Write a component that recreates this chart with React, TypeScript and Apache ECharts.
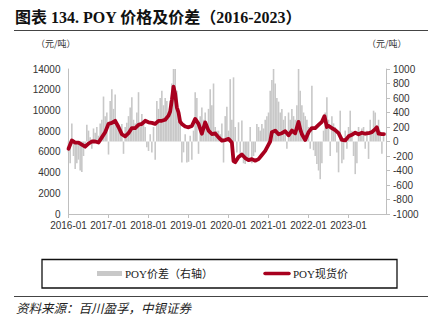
import React, { useEffect, useRef } from "react";
import * as echarts from "echarts";

// POY spot price (元/吨), left axis
const priceDates = [
  "2016-01-01","2016-02-01","2016-03-01","2016-04-01","2016-05-01","2016-06-01","2016-07-01","2016-08-01","2016-09-01","2016-10-01","2016-11-01","2016-12-01",
  "2017-01-01","2017-02-01","2017-03-01","2017-04-01","2017-05-01","2017-06-01","2017-07-01","2017-08-01","2017-09-01","2017-10-01","2017-11-01","2017-12-01",
  "2018-01-01","2018-02-01","2018-03-01","2018-04-01","2018-05-01","2018-06-01","2018-07-01","2018-07-16","2018-08-01","2018-08-16","2018-09-01","2018-09-16","2018-10-01","2018-10-16","2018-11-01","2018-12-01",
  "2019-01-01","2019-02-01","2019-03-01","2019-04-01","2019-05-01","2019-06-01","2019-07-01","2019-08-01","2019-09-01","2019-10-01","2019-11-01","2019-12-01",
  "2020-01-01","2020-02-01","2020-02-16","2020-03-01","2020-04-01","2020-05-01","2020-06-01","2020-07-01","2020-08-01","2020-09-01","2020-10-01","2020-11-01","2020-12-01",
  "2021-01-01","2021-01-16","2021-02-01","2021-03-01","2021-04-01","2021-05-01","2021-06-01","2021-07-01","2021-08-01","2021-09-01","2021-10-01","2021-10-16","2021-11-01","2021-12-01",
  "2022-01-01","2022-02-01","2022-03-01","2022-04-01","2022-05-01","2022-05-25","2022-06-16","2022-07-01","2022-08-01","2022-09-01","2022-10-01","2022-11-01","2022-12-01",
  "2023-01-01","2023-02-01","2023-03-01","2023-04-01","2023-05-01","2023-06-01","2023-07-01","2023-08-01","2023-09-01","2023-09-16","2023-10-01","2023-11-01","2023-11-20",
];
const priceValues = [
  6300,7100,6900,6900,6700,6500,6800,7000,7000,6900,7400,7900,
  8700,8800,9000,8400,7700,7500,7800,8300,8300,8600,8700,9000,
  8850,8800,8700,9000,9000,9100,9500,9900,11000,12300,11600,10300,9800,8900,8700,8450,
  8370,8500,9180,8700,7750,8850,8050,7720,7780,7400,7080,7140,
  7250,6900,5100,5000,5500,5750,5400,5200,5300,5150,5300,5700,6100,
  6700,7000,7900,8050,7700,7800,8000,7600,8050,7800,8900,8200,7700,7150,
  7900,8300,8300,8600,8900,9450,8400,8500,8300,8100,7800,7150,7100,
  7500,7650,7850,7700,7850,7750,7800,7900,8200,8370,7750,7720,7720,
];

// POY spread (元/吨), right axis: two readings per month, first from 2016-01
const spreadStart = "2016-01-01";
const spreadValues = [
  -150,-300, 250,-200, -380,-300, -250,-400, -420,-200, -80,230, 150,60, -100,180, 120,200, 80,250, 300,620, 350,400,
  -180,560, 720,450, 650,250, 200,120, 240,-170, 200,260, 350,470, 610,300, 250,400, 680,200, 380,250, 200,-80,
  -130,100, -150,200, -250,560, 450,600, 700,500, 600,560, 400,560, 800,1000, 1000,700, 425,300, -290,-150, 100,-290,
  -280,80, -250,150, 680,600, -170,350, 470,300, 400,250, 450,720, 500,800, 200,150, 150,100, 250,-290, 350,480,
  150,860, 300,885, 200,-150, 265,-200, 290,-300, -310,-250, -280,200, -300,-200, -150,240, 200,150, 240,180, 300,350,
  400,700, 850,1000, 800,600, 550,400, 450,300, 350,-100, 400,300, 450,350, 300,500, 1000,700, 500,400, 350,300,
  200,-100, 770,-120, -200,-310, -400,-520, -300,150, 400,610, 300,-200, 350,250, 200,-150, -425,425, -300,-250, 150,-100,
  200,425, 150,-200, -450,-300, 200,100, 180,200, -100,150, -240,300, 150,425, 400,200, 300,150, -170,100,
];

const yearLabels = ["2016-01","2017-01","2018-01","2019-01","2020-01","2021-01","2022-01","2023-01"];
const axisEnd = "2023-12-08";

const seriesNames = ["POY价差（右轴）", "POY现货价"];
const title = "图表 134. POY 价格及价差（2016-2023）";
const unitLabel = "（元/吨）";
const sourceText = "资料来源：百川盈孚，中银证券";

const RED = "#A8001E";
const GREY = "#C8C8C8";

// month index since 2016-01 (time scale)
function toMonth(d: string): number {
  const [y, m, day] = d.split("-").map(Number);
  return (y - 2016) * 12 + (m - 1) + ((day || 1) - 1) / 30.5;
}

export default function App() {
  const ref = useRef<HTMLDivElement>(null);
  useEffect(() => {
    if (!ref.current) return;
    const chart = echarts.init(ref.current, null, { renderer: "svg" });
    const start = toMonth(spreadStart);
    const barData = spreadValues.map((v, i) => [start + i * 0.5, v]);
    const lineData = priceDates.map((d, i) => [toMonth(d), priceValues[i]]);
    const axisFont = { fontFamily: "Liberation Sans, Arial, sans-serif", fontSize: 10, color: "#333" };
    const cjk = "Liberation Serif, Noto Sans CJK SC, serif";
    chart.setOption({
      animation: false,
      backgroundColor: "#fff",
      grid: { left: 68.5, right: 48, top: 69, bottom: 109 },
      xAxis: {
        type: "value",
        min: 0,
        max: toMonth(axisEnd),
        interval: 12,
        splitLine: { show: false },
        axisLine: { lineStyle: { color: "#BFBFBF", width: 1 } },
        axisTick: { show: true, length: 4, lineStyle: { color: "#BFBFBF" } },
        axisLabel: {
          ...axisFont,
          margin: 6,
          showMaxLabel: false,
          formatter: (v: number) => {
            const idx = Math.round(v / 12);
            return Math.abs(v - idx * 12) < 1e-6 && yearLabels[idx] ? yearLabels[idx] : "";
          },
        },
      },
      yAxis: [
        {
          type: "value",
          min: 0,
          max: 14000,
          interval: 2000,
          splitLine: { show: false },
          axisLine: { show: true, lineStyle: { color: "#BFBFBF" } },
          axisTick: { show: false },
          axisLabel: { ...axisFont, margin: 8, formatter: (v: number) => String(v) },
        },
        {
          type: "value",
          min: -1000,
          max: 1000,
          interval: 200,
          splitLine: { show: false },
          axisLine: { show: true, lineStyle: { color: "#BFBFBF" } },
          axisTick: { show: true, length: 4, inside: false, lineStyle: { color: "#BFBFBF" } },
          axisLabel: { ...axisFont, margin: 7, formatter: (v: number) => String(v) },
        },
      ],
      series: [
        {
          name: seriesNames[0],
          type: "bar",
          yAxisIndex: 1,
          barWidth: 1.6,
          itemStyle: { color: GREY },
          data: barData,
          z: 1,
        },
        {
          name: seriesNames[1],
          type: "line",
          yAxisIndex: 0,
          symbol: "none",
          lineStyle: { color: RED, width: 3.8, join: "round", cap: "round" },
          data: lineData,
          z: 3,
        },
      ],
      graphic: [
        {
          type: "text",
          left: 15,
          top: 9,
          style: { text: title, font: `bold 16px ${cjk}`, fill: "#111" },
        },
        { type: "line", shape: { x1: 14, y1: 30.5, x2: 428, y2: 30.5 }, style: { stroke: "#444", lineWidth: 1 } },
        {
          type: "text",
          left: 36,
          top: 39,
          style: { text: unitLabel, font: `9px Noto Sans CJK SC, sans-serif`, fill: "#333" },
        },
        {
          type: "text",
          left: 367,
          top: 39,
          style: { text: unitLabel, font: `9px Noto Sans CJK SC, sans-serif`, fill: "#333" },
        },
        {
          type: "rect",
          shape: { x: 42, y: 259.5, width: 355, height: 28.5 },
          style: { fill: "none", stroke: "#111", lineWidth: 1.3 },
        },
        { type: "rect", shape: { x: 97, y: 271, width: 25, height: 5 }, style: { fill: GREY } },
        {
          type: "text",
          x: 125,
          y: 273.5,
          style: { text: seriesNames[0], font: `11px ${cjk}`, fill: "#222", verticalAlign: "middle" },
        },
        {
          type: "line",
          shape: { x1: 265, y1: 273.5, x2: 289, y2: 273.5 },
          style: { stroke: RED, lineWidth: 3.5, lineCap: "round" },
        },
        {
          type: "text",
          x: 293,
          y: 273.5,
          style: { text: seriesNames[1], font: `11px ${cjk}`, fill: "#222", verticalAlign: "middle" },
        },
        { type: "line", shape: { x1: 14, y1: 296.5, x2: 428, y2: 296.5 }, style: { stroke: "#444", lineWidth: 1 } },
        {
          type: "text",
          x: 16,
          y: 307,
          style: { text: sourceText, font: `italic 12.5px Noto Sans CJK SC, sans-serif`, fill: "#222", verticalAlign: "middle" },
        },
      ],
    });
    return () => chart.dispose();
  }, []);
  return <div ref={ref} style={{ width: 434, height: 323, position: "absolute", left: 0, top: 0 }} />;
}
